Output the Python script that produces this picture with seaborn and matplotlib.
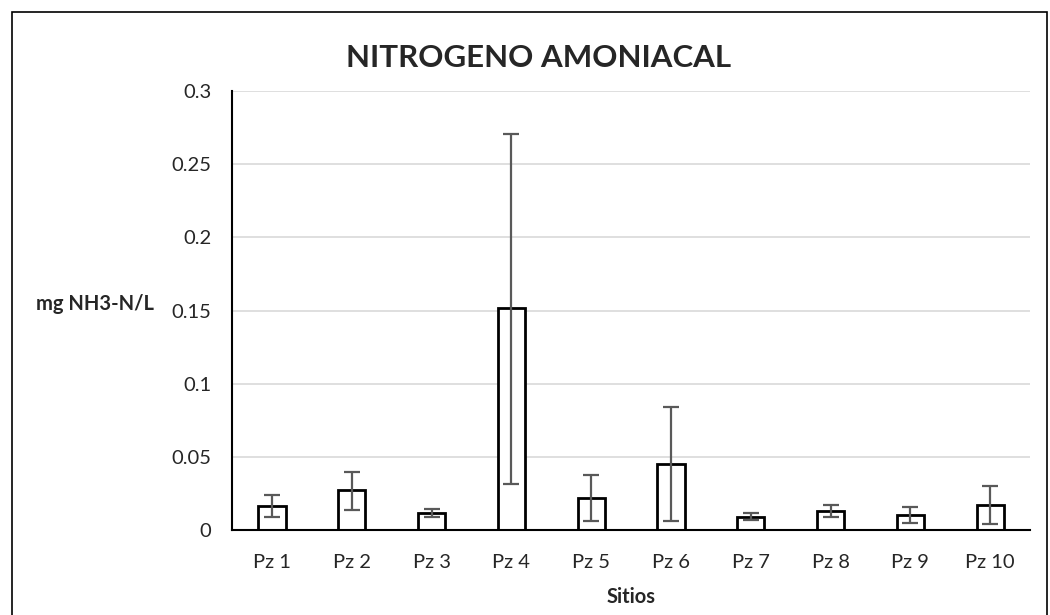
import numpy as np
import pandas as pd
import matplotlib
matplotlib.use("Agg")
import matplotlib.pyplot as plt
import matplotlib.patches as mpatches
import seaborn as sns

# ── data ─────────────────────────────────────────────────────────────────────
sitios = ['Pz 1', 'Pz 2', 'Pz 3', 'Pz 4', 'Pz 5', 'Pz 6', 'Pz 7', 'Pz 8', 'Pz 9', 'Pz 10']
media  = [0.0164, 0.0271, 0.0118, 0.1515, 0.0219, 0.0449, 0.0089, 0.0130, 0.0103, 0.0171]
err_lo = [0.0089, 0.0137, 0.0091, 0.0314, 0.0059, 0.0059, 0.0066, 0.0091, 0.0050, 0.0041]
err_hi = [0.0237, 0.0398, 0.0143, 0.2706, 0.0376, 0.0838, 0.0114, 0.0169, 0.0157, 0.0299]
yticks = [0, 0.05, 0.1, 0.15, 0.2, 0.25, 0.3]
ytick_labels = ['0', '0.05', '0.1', '0.15', '0.2', '0.25', '0.3']

df = pd.DataFrame({'sitio': sitios, 'valor': media})

sns.set_style('white')
plt.rcParams['font.family'] = ['Lato', 'DejaVu Sans']

fig = plt.figure(figsize=(10.5, 6.15), dpi=100)
ax = fig.add_axes([0.221, 0.138, 0.76, 0.714])

sns.barplot(data=df, x='sitio', y='valor', ax=ax, color='white',
            edgecolor='black', linewidth=2, width=0.34, errorbar=None)

# asymmetric error bars
x = np.arange(len(sitios))
lo = np.array(media) - np.array(err_lo)
hi = np.array(err_hi) - np.array(media)
ax.errorbar(x, media, yerr=[lo, hi], fmt='none', ecolor='#595959',
            elinewidth=1.6, capsize=6, capthick=1.6, zorder=5)

ax.set_ylim(0, 0.3)
ax.set_xlim(-0.5, len(sitios) - 0.5)
ax.set_yticks(yticks)
ax.set_yticklabels(ytick_labels)
ax.yaxis.grid(True, color='#d9d9d9', linewidth=1.2)
ax.set_axisbelow(True)
ax.tick_params(axis='y', labelsize=14.5, length=0, pad=15)
ax.tick_params(axis='x', labelsize=14.5, length=0, pad=17)

for s in ['top', 'right']:
    ax.spines[s].set_visible(False)
ax.spines['left'].set_color('black')
ax.spines['bottom'].set_color('black')
ax.spines['left'].set_linewidth(1.5)
ax.spines['bottom'].set_linewidth(1.5)

ax.set_xlabel('Sitios', fontsize=14.5, fontweight='bold', labelpad=12)
ax.set_ylabel('')
fig.text(0.09, 0.505, 'mg NH3-N/L', fontsize=14.5, fontweight='bold',
         ha='center', va='center')
fig.text(0.513, 0.905, 'NITROGENO AMONIACAL', fontsize=22.5, fontweight='bold',
         ha='center', va='center')

# outer frame like the spreadsheet chart border
fig.patches.append(mpatches.Rectangle((12 / 1050, -0.05), 1035 / 1050, 1 - 12 / 615 + 0.05,
                                      transform=fig.transFigure, fill=False,
                                      edgecolor='black', linewidth=1.2))

fig.savefig('out.png', dpi=100)
